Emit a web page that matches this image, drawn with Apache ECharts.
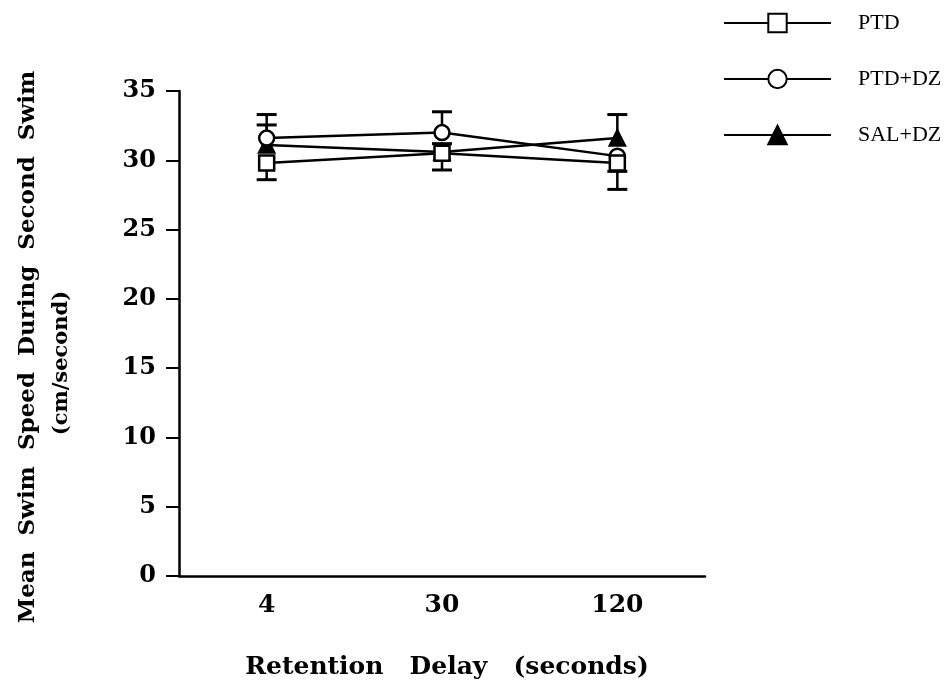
<!DOCTYPE html>
<html>
<head>
<meta charset="utf-8">
<script src="https://cdn.jsdelivr.net/npm/echarts@6/dist/echarts.min.js"></script>
<style>
  html, body { margin: 0; padding: 0; background: #fff; }
  #main { width: 950px; height: 689px; }
</style>
</head>
<body>
<div id="main"></div>
<script>
// retention delays (seconds)
var delays = ['4', '30', '120'];
var yTicks = [0, 5, 10, 15, 20, 25, 30, 35];

// mean swim speed, cm/second
var ptd = [29.8, 30.5, 29.8];
var ptdDz = [31.6, 32.0, 30.3];
var salDz = [31.1, 30.6, 31.6];

// error bars drawn above / below each mean (0 = not visible)
var ptdUp = [0, 0.7, 0];
var ptdDown = [1.2, 1.2, 1.9];
var ptdDzUp = [1.7, 1.5, 0];
var ptdDzDown = [0, 0, 1.1];
var salDzUp = [1.45, 0, 1.7];
var salDzDown = [0, 0, 0];

var serif = 'Liberation Serif';
var boldSerif = 'DejaVu Serif';
var chart = echarts.init(document.getElementById('main'));

function errData(vals, up, down) {
  return vals.map(function (v, i) { return [i, v, up[i], down[i]]; });
}

function renderErr(params, api) {
  var i = api.value(0), v = api.value(1), up = api.value(2), down = api.value(3);
  var c = api.coord([i, v]);
  var kids = [];
  var half = 10;
  var st = { stroke: '#000', lineWidth: 2.5 };
  var cap = { stroke: '#000', lineWidth: 3 };
  if (up > 0) {
    var t = api.coord([i, v + up]);
    kids.push({ type: 'line', shape: { x1: c[0], y1: c[1], x2: t[0], y2: t[1] }, style: st });
    kids.push({ type: 'line', shape: { x1: t[0] - half, y1: t[1], x2: t[0] + half, y2: t[1] }, style: cap });
  }
  if (down > 0) {
    var b = api.coord([i, v - down]);
    kids.push({ type: 'line', shape: { x1: c[0], y1: c[1], x2: b[0], y2: b[1] }, style: st });
    kids.push({ type: 'line', shape: { x1: b[0] - half, y1: b[1], x2: b[0] + half, y2: b[1] }, style: cap });
  }
  return { type: 'group', children: kids };
}

function errSeries(vals, up, down) {
  return {
    type: 'custom',
    name: 'err',
    renderItem: renderErr,
    data: errData(vals, up, down),
    encode: { x: 0, y: 1 },
    z: 1,
    silent: true
  };
}

function lineSeries(name, vals, symbol, fill, z) {
  return {
    type: 'line',
    name: name,
    data: vals,
    symbol: symbol,
    symbolSize: 15,
    showAllSymbol: true,
    lineStyle: { color: '#000', width: 2.5 },
    itemStyle: { color: fill, borderColor: '#000', borderWidth: 2.5 },
    z: z,
    animation: false
  };
}

var option = {
  backgroundColor: '#fff',
  animation: false,
  grid: { left: 179, right: 245, top: 91, bottom: 113, containLabel: false },
  legend: {
    data: ['PTD', 'PTD+DZ', 'SAL+DZ'],
    orient: 'vertical',
    left: 718,
    top: 7,
    itemWidth: 107,
    itemHeight: 23,
    itemGap: 34,
    textStyle: { fontFamily: serif, fontSize: 22, color: '#000', padding: [0, 0, 0, 22] }
  },
  xAxis: {
    type: 'category',
    data: delays,
    boundaryGap: true,
    axisLine: { lineStyle: { color: '#000', width: 2.5 } },
    axisTick: { alignWithLabel: true, length: 12, lineStyle: { color: '#000', width: 2 } },
    axisLabel: { margin: 17, fontFamily: boldSerif, fontWeight: 'bold', fontSize: 25, color: '#000' },
    splitLine: { show: false }
  },
  yAxis: {
    type: 'value',
    min: yTicks[0],
    max: yTicks[yTicks.length - 1],
    interval: 5,
    axisLine: { show: true, lineStyle: { color: '#000', width: 2.5 } },
    axisTick: { show: true, length: 13, lineStyle: { color: '#000', width: 2 } },
    axisLabel: { margin: 23, fontFamily: boldSerif, fontWeight: 'bold', fontSize: 24, color: '#000' },
    splitLine: { show: false }
  },
  graphic: [
    {
      type: 'text', x: 28, y: 347, rotation: Math.PI / 2,
      style: { text: 'Mean  Swim  Speed  During  Second  Swim', fontFamily: boldSerif, fontWeight: 'bold', fontSize: 23, fill: '#000', align: 'center', verticalAlign: 'middle' }
    },
    {
      type: 'text', x: 62, y: 363, rotation: Math.PI / 2,
      style: { text: '(cm/second)', fontFamily: boldSerif, fontWeight: 'bold', fontSize: 21, fill: '#000', align: 'center', verticalAlign: 'middle' }
    },
    {
      type: 'text', x: 447, y: 667,
      style: { text: 'Retention   Delay   (seconds)', fontFamily: boldSerif, fontWeight: 'bold', fontSize: 25, fill: '#000', align: 'center', verticalAlign: 'middle' }
    }
  ],
  series: [
    errSeries(ptd, ptdUp, ptdDown),
    errSeries(ptdDz, ptdDzUp, ptdDzDown),
    errSeries(salDz, salDzUp, salDzDown),
    lineSeries('SAL+DZ', salDz, 'triangle', '#000', 3),
    lineSeries('PTD+DZ', ptdDz, 'circle', '#fff', 4),
    lineSeries('PTD', ptd, 'rect', '#fff', 5)
  ]
};
chart.setOption(option);
</script>
</body>
</html>
